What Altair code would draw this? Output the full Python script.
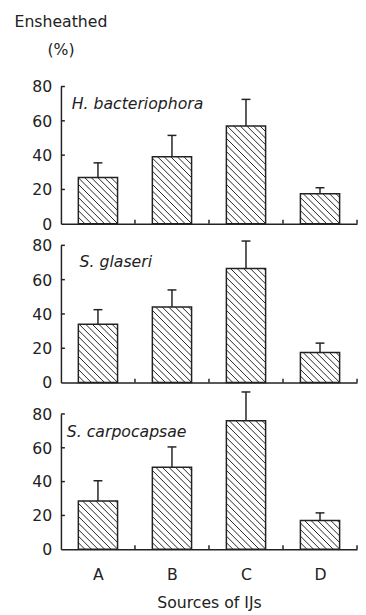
import json
import altair as alt
import pandas as pd

# ---- data ----
categories = ["A", "B", "C", "D"]
species = ["H. bacteriophora", "S. glaseri", "S. carpocapsae"]
means = [
    [27.0, 39.0, 57.0, 17.5],
    [34.0, 44.0, 66.5, 17.5],
    [28.5, 48.5, 76.0, 17.0],
]
upper = [
    [35.5, 51.5, 72.5, 21.0],
    [42.5, 54.0, 82.5, 23.0],
    [40.5, 60.5, 93.0, 21.5],
]
y_ticks = [0, 20, 40, 60, 80]
y_title = ["Ensheathed", "(%)"]
x_title = "Sources of IJs"

# ---- style ----
W = 302
PLOT_H = [140, 140, 138]     # pixel span of 0..80
HEAD = [0, 0, 10]            # extra room above the 80 line
BAR_HALF = 0.265
CAP_HALF = 0.06
HATCH_STEP = 6.7
TICK_LEN = 4
FONT = "DejaVu Sans"
INK = "#222222"
LABEL_POS = [(11, 22.7), (19, 22.3), (6, 23.3)]


def hatch_rows(vals, pxx, pxy):
    rows = []
    for i, m in enumerate(vals):
        xl = i - BAR_HALF
        wpx = 2 * BAR_HALF * pxx
        hpx = m * pxy
        c = HATCH_STEP
        while c < wpx + hpx:
            u1 = max(0.0, c - hpx)
            u2 = min(wpx, c)
            if u2 > u1:
                rows.append({
                    "x": xl + u1 / pxx, "x2": xl + u2 / pxx,
                    "y": (c - u1) / pxy, "y2": (c - u2) / pxy,
                })
            c += HATCH_STEP
    return pd.DataFrame(rows)


def panel(k):
    ph = PLOT_H[k]
    head = HEAD[k]
    H = ph + head
    n = len(categories)
    pxx = W / n
    pxy = ph / y_ticks[-1]
    last = k == len(species) - 1

    df = pd.DataFrame({
        "idx": list(range(n)),
        "cat": categories,
        "mean": means[k],
        "top": upper[k],
    })
    df["xl"] = df["idx"] - BAR_HALF
    df["xr"] = df["idx"] + BAR_HALF
    df["cl"] = df["idx"] - CAP_HALF
    df["cr"] = df["idx"] + CAP_HALF
    df["bound"] = df["idx"] + 0.5

    xscale = alt.Scale(domain=[-0.5, n - 0.5], nice=False, zero=False)
    yscale = alt.Scale(domain=[y_ticks[0], y_ticks[-1]], nice=False,
                       range=[H, head])

    xaxis = alt.Axis(
        title=x_title if last else None,
        values=list(range(n)),
        labelExpr=json.dumps(categories) + "[datum.value]",
        labels=last,
        ticks=False,
        grid=False,
        domainColor=INK,
        domainWidth=1.5,
        labelFont=FONT,
        labelFontSize=16,
        labelColor=INK,
        labelPadding=18,
        titleFont=FONT,
        titleFontSize=16,
        titleFontWeight="normal",
        titleColor=INK,
        titlePadding=12,
    )
    yaxis = alt.Axis(
        values=y_ticks,
        ticks=False,
        labels=False,
        grid=False,
        domainColor=INK,
        domainWidth=1.5,
        title=None,
    )

    base = alt.Chart(df)
    fill = base.mark_rect(fill="white", strokeWidth=0).encode(
        x=alt.X("xl:Q", scale=xscale, axis=xaxis),
        x2="xr:Q",
        y=alt.Y("mean:Q", scale=yscale, axis=yaxis),
        y2=alt.datum(0),
    )
    hatch = alt.Chart(hatch_rows(means[k], pxx, pxy)).mark_rule(
        color=INK, strokeWidth=1
    ).encode(x="x:Q", x2="x2:Q", y="y:Q", y2="y2:Q")
    outline = base.mark_rect(
        fill="white", fillOpacity=0, stroke=INK, strokeWidth=1.5
    ).encode(x="xl:Q", x2="xr:Q", y="mean:Q", y2=alt.datum(0))
    err = base.mark_rule(color=INK, strokeWidth=1.5).encode(
        x="idx:Q", y="mean:Q", y2="top:Q"
    )
    cap = base.mark_rule(color=INK, strokeWidth=1.5).encode(
        x="cl:Q", x2="cr:Q", y="top:Q"
    )
    ydf = pd.DataFrame({"v": y_ticks})
    yt = alt.Chart(ydf).transform_filter("datum.v > 0").mark_rule(
        color=INK, strokeWidth=1.5
    ).encode(y="v:Q", x=alt.value(0), x2=alt.value(TICK_LEN))
    ylab = alt.Chart(ydf).mark_text(
        align="right", baseline="middle", font=FONT, fontSize=16, color=INK,
        dy=1,
    ).encode(y="v:Q", text="v:Q", x=alt.value(-9))
    xt = base.mark_rule(color=INK, strokeWidth=1.5).encode(
        x="bound:Q", y=alt.value(H), y2=alt.value(H - TICK_LEN)
    )
    lx, ly = LABEL_POS[k]
    label = alt.Chart(pd.DataFrame({"name": [species[k]]})).mark_text(
        align="left", baseline="alphabetic", font=FONT, fontSize=16,
        fontStyle="italic", color=INK,
    ).encode(text="name:N", x=alt.value(lx), y=alt.value(ly + head))

    layers = [fill, hatch, outline, err, cap, yt, ylab, xt, label]
    if k == 0:
        ttl = alt.Chart(pd.DataFrame({"a": [0]})).mark_text(
            text=y_title, align="center", baseline="alphabetic", font=FONT,
            fontSize=16, color=INK, lineHeight=29,
        ).encode(x=alt.value(0), y=alt.value(-61))
        layers.append(ttl)
    return alt.layer(*layers).properties(width=W, height=H)


chart = alt.vconcat(
    panel(0), panel(1), panel(2), spacing=22, bounds="flush"
).resolve_scale(
    x="independent", y="independent"
).properties(
    padding={"left": 6, "top": 0, "right": 0, "bottom": 0}
).configure_view(stroke=None)

chart.save("out.html", embed_options={"renderer": "svg", "actions": False})
